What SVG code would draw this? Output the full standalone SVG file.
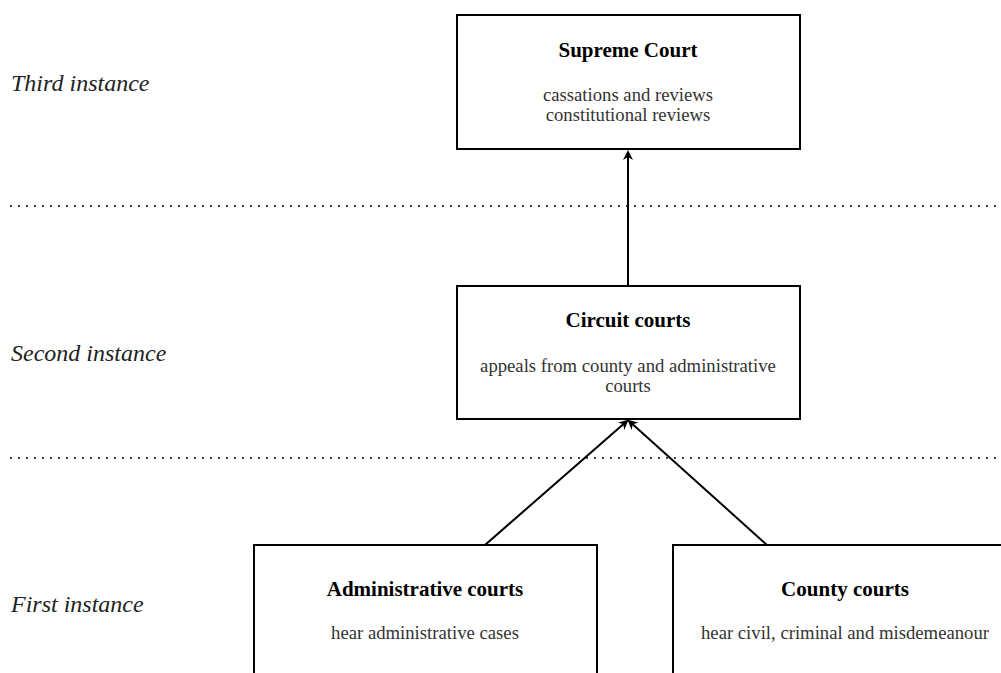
<svg xmlns="http://www.w3.org/2000/svg" width="1001" height="673" viewBox="0 0 1001 673">
<defs>
<style>
.box{fill:#fff;stroke:#000;stroke-width:2}
.t{font-family:"Liberation Serif","Times New Roman",serif;font-weight:bold;font-size:21px;fill:#000;text-anchor:middle}
.b{font-family:"Liberation Serif","Times New Roman",serif;font-size:18.7px;fill:#333;text-anchor:middle}
.lv{font-family:"Liberation Serif","Times New Roman",serif;font-style:italic;font-size:24px;fill:#222}
.dot{stroke:#444;stroke-width:2;stroke-dasharray:2 6;fill:none}
.c{stroke:#000;stroke-width:2;fill:none;marker-end:url(#ah)}
</style>
<marker id="ah" markerWidth="10" markerHeight="10" refX="8" refY="5" orient="auto" markerUnits="userSpaceOnUse">
<path d="M0,0 L10,5 L0,10 L3,5 Z" fill="#000"/>
</marker>
</defs>
<rect width="1001" height="673" fill="#fff"/>
<g id="levels">
<text class="lv" x="11" y="91">Third instance</text>
<text class="lv" x="11" y="361">Second instance</text>
<text class="lv" x="11" y="612">First instance</text>
<line class="dot" x1="10" y1="206" x2="1001" y2="206"/>
<line class="dot" x1="10" y1="458" x2="1001" y2="458"/>
</g>
<g id="connectors">
<line class="c" x1="628" y1="286" x2="628" y2="152"/>
<line class="c" x1="485" y1="545" x2="627" y2="421"/>
<line class="c" x1="767" y1="545" x2="629" y2="421"/>
</g>
<g id="supreme">
<rect class="box" x="457" y="15" width="343" height="134"/>
<text class="t" x="628" y="57">Supreme Court</text>
<text class="b" x="628" y="101">cassations and reviews</text>
<text class="b" x="628" y="121">constitutional reviews</text>
</g>
<g id="circuit">
<rect class="box" x="457" y="286" width="343" height="133"/>
<text class="t" x="628" y="327">Circuit courts</text>
<text class="b" x="628" y="372">appeals from county and administrative</text>
<text class="b" x="628" y="392">courts</text>
</g>
<g id="administrative">
<rect class="box" x="254" y="545" width="343" height="140"/>
<text class="t" x="425" y="596">Administrative courts</text>
<text class="b" x="425" y="639">hear administrative cases</text>
</g>
<g id="county">
<rect class="box" x="673" y="545" width="343" height="140"/>
<text class="t" x="845" y="596">County courts</text>
<text class="b" x="845" y="639">hear civil, criminal and misdemeanour</text>
</g>
</svg>
